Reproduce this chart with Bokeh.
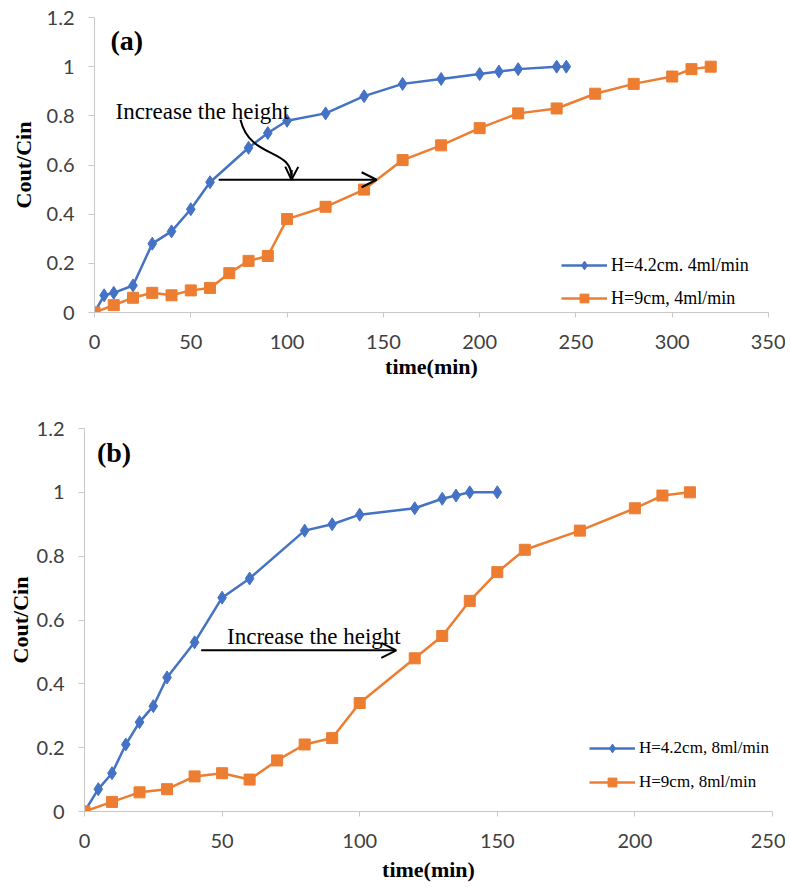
import math
from bokeh.plotting import figure
from bokeh.models import Range1d, FixedTicker, Label, Arrow, OpenHead, NumeralTickFormatter
from bokeh.embed import file_html
from bokeh.resources import INLINE

# ---------------- data ----------------
# Panel (a): 4 ml/min
a_blue_t = [0, 5, 10, 20, 30, 40, 50, 60, 80, 90, 100, 120, 140, 160, 180, 200, 210, 220, 240, 245]
a_blue_c = [0, 0.07, 0.08, 0.11, 0.28, 0.33, 0.42, 0.53, 0.67, 0.73, 0.78, 0.81, 0.88, 0.93, 0.95, 0.97, 0.98, 0.99, 1.0, 1.0]
a_orange_t = [0, 10, 20, 30, 40, 50, 60, 70, 80, 90, 100, 120, 140, 160, 180, 200, 220, 240, 260, 280, 300, 310, 320]
a_orange_c = [0, 0.03, 0.06, 0.08, 0.07, 0.09, 0.10, 0.16, 0.21, 0.23, 0.38, 0.43, 0.50, 0.62, 0.68, 0.75, 0.81, 0.83, 0.89, 0.93, 0.96, 0.99, 1.0]
a_labels = ["H=4.2cm. 4ml/min", "H=9cm, 4ml/min"]

# Panel (b): 8 ml/min
b_blue_t = [0, 5, 10, 15, 20, 25, 30, 40, 50, 60, 80, 90, 100, 120, 130, 135, 140, 150]
b_blue_c = [0, 0.07, 0.12, 0.21, 0.28, 0.33, 0.42, 0.53, 0.67, 0.73, 0.88, 0.90, 0.93, 0.95, 0.98, 0.99, 1.0, 1.0]
b_orange_t = [0, 10, 20, 30, 40, 50, 60, 70, 80, 90, 100, 120, 130, 140, 150, 160, 180, 200, 210, 220]
b_orange_c = [0, 0.03, 0.06, 0.07, 0.11, 0.12, 0.10, 0.16, 0.21, 0.23, 0.34, 0.48, 0.55, 0.66, 0.75, 0.82, 0.88, 0.95, 0.99, 1.0]
b_labels = ["H=4.2cm, 8ml/min", "H=9cm, 8ml/min"]

a_x_ticks = [0, 50, 100, 150, 200, 250, 300, 350]
b_x_ticks = [0, 50, 100, 150, 200, 250]
y_ticks = [0, 0.2, 0.4, 0.6, 0.8, 1.0, 1.2]
y_tick_labels = ["0", "0.2", "0.4", "0.6", "0.8", "1", "1.2"]

BLUE = "#4472C4"
ORANGE = "#ED7D31"
SERIF = "Liberation Serif"
TICKFONT = "Lato"


def make_panel(width, height, bl, br, bt, bb, xmax, xticks, x_std, x_title_std,
               y_tick_out, y_lab_std, y_title_std):
    p = figure(width=width, height=height, x_range=Range1d(0, xmax), y_range=Range1d(0, 1.2),
               output_backend="svg", toolbar_location=None,
               min_border_left=bl, min_border_right=br, min_border_top=bt, min_border_bottom=bb)
    p.outline_line_color = None
    p.grid.visible = False
    p.background_fill_color = "white"
    p.border_fill_color = "white"

    xa = p.xaxis[0]
    xa.ticker = FixedTicker(ticks=xticks)
    xa.axis_line_color = "#c8c8c8"
    xa.major_tick_line_color = "#c8c8c8"
    xa.major_tick_out = 5
    xa.major_tick_in = 0
    xa.minor_tick_line_color = None
    xa.major_label_text_font = TICKFONT
    xa.major_label_text_font_size = "20px"
    xa.major_label_text_color = "#404040"
    xa.major_label_standoff = x_std
    xa.axis_label = "time(min)"
    xa.axis_label_text_font = SERIF
    xa.axis_label_text_font_style = "bold"
    xa.axis_label_text_font_size = "22px"
    xa.axis_label_text_color = "black"
    xa.axis_label_standoff = x_title_std

    ya = p.yaxis[0]
    ya.ticker = FixedTicker(ticks=y_ticks)
    ya.formatter = NumeralTickFormatter(format="0.[0]")
    ya.major_label_overrides = {t: l for t, l in zip(y_ticks, y_tick_labels)}
    ya.axis_line_color = "#c8c8c8"
    ya.major_tick_line_color = "#c8c8c8"
    ya.major_tick_out = y_tick_out
    ya.major_tick_in = 0
    ya.minor_tick_line_color = None
    ya.major_label_text_font = TICKFONT
    ya.major_label_text_font_size = "20px"
    ya.major_label_text_color = "#404040"
    ya.major_label_standoff = y_lab_std
    ya.axis_label = "Cout/Cin"
    ya.axis_label_text_font = SERIF
    ya.axis_label_text_font_style = "bold"
    ya.axis_label_text_font_size = "22px"
    ya.axis_label_text_color = "black"
    ya.axis_label_standoff = y_title_std
    return p


def add_series(p, bt, bc, ot, oc, labels):
    p.line(bt, bc, line_color=BLUE, line_width=2.5, legend_label=labels[0])
    p.scatter(bt, bc, marker="diamond", size=13, fill_color=BLUE, line_color=BLUE, legend_label=labels[0])
    p.line(ot, oc, line_color=ORANGE, line_width=2.5, legend_label=labels[1])
    p.scatter(ot, oc, marker="square", size=11, fill_color=ORANGE, line_color=ORANGE, legend_label=labels[1])


def style_legend(p, loc, spacing, fsize):
    lg = p.legend[0]
    lg.location = loc
    lg.border_line_color = None
    lg.background_fill_alpha = 0
    lg.padding = 0
    lg.margin = 0
    lg.spacing = spacing
    lg.label_text_font = SERIF
    lg.label_text_font_size = fsize
    lg.label_text_color = "black"
    lg.label_standoff = 4
    lg.glyph_width = 46
    lg.glyph_height = 22
    lg.label_height = 22


# ---------------- panel (a) ----------------
p1 = make_panel(785, 395, 94, 17, 17, 83, 350, a_x_ticks, 17, 2, 6, 14, 8)
add_series(p1, a_blue_t, a_blue_c, a_orange_t, a_orange_c, a_labels)
style_legend(p1, (467, 3), 11, "18px")

p1.add_layout(Label(x=8.3, y=1.108, text="(a)", text_align="left", text_baseline="middle",
                    text_font=SERIF, text_font_style="bold", text_font_size="28px", text_color="black"))
p1.add_layout(Label(x=10.9, y=0.818, text="Increase the height", text_align="left",
                    text_baseline="alphabetic", text_font=SERIF, text_font_size="23px", text_color="black"))
# straight arrow
p1.add_layout(Arrow(end=OpenHead(size=15, line_width=2, line_color="black"),
                    x_start=64.5, y_start=0.54, x_end=146.5, y_end=0.54,
                    line_width=2, line_color="black"))
# curved arrow
p1.bezier(x0=[75.8], y0=[0.784], x1=[102.3], y1=[0.540], cx0=[81.0], cy0=[0.618],
          cx1=[103.4], cy1=[0.675], line_color="black", line_width=2)
p1.add_layout(Arrow(end=OpenHead(size=13, line_width=2, line_color="black"),
                    x_start=102.4, y_start=0.58, x_end=102.3, y_end=0.54,
                    line_width=2, line_color="black"))

# ---------------- panel (b) ----------------
p2 = make_panel(785, 491, 84, 13, 33, 75, 250, b_x_ticks, 17, 6, 6, 14, 1)
add_series(p2, b_blue_t, b_blue_c, b_orange_t, b_orange_c, b_labels)
style_legend(p2, (505, 18), 12, "17px")

p2.add_layout(Label(x=4.5, y=1.124, text="(b)", text_align="left", text_baseline="middle",
                    text_font=SERIF, text_font_style="bold", text_font_size="28px", text_color="black"))
p2.add_layout(Label(x=51.8, y=0.549, text="Increase the height", text_align="left",
                    text_baseline="alphabetic", text_font=SERIF, text_font_size="23px", text_color="black"))
p2.add_layout(Arrow(end=OpenHead(size=15, line_width=2, line_color="black"),
                    x_start=42.4, y_start=0.505, x_end=113.3, y_end=0.505,
                    line_width=2, line_color="black"))

open("out.html", "w").write(file_html([p1, p2], INLINE))
